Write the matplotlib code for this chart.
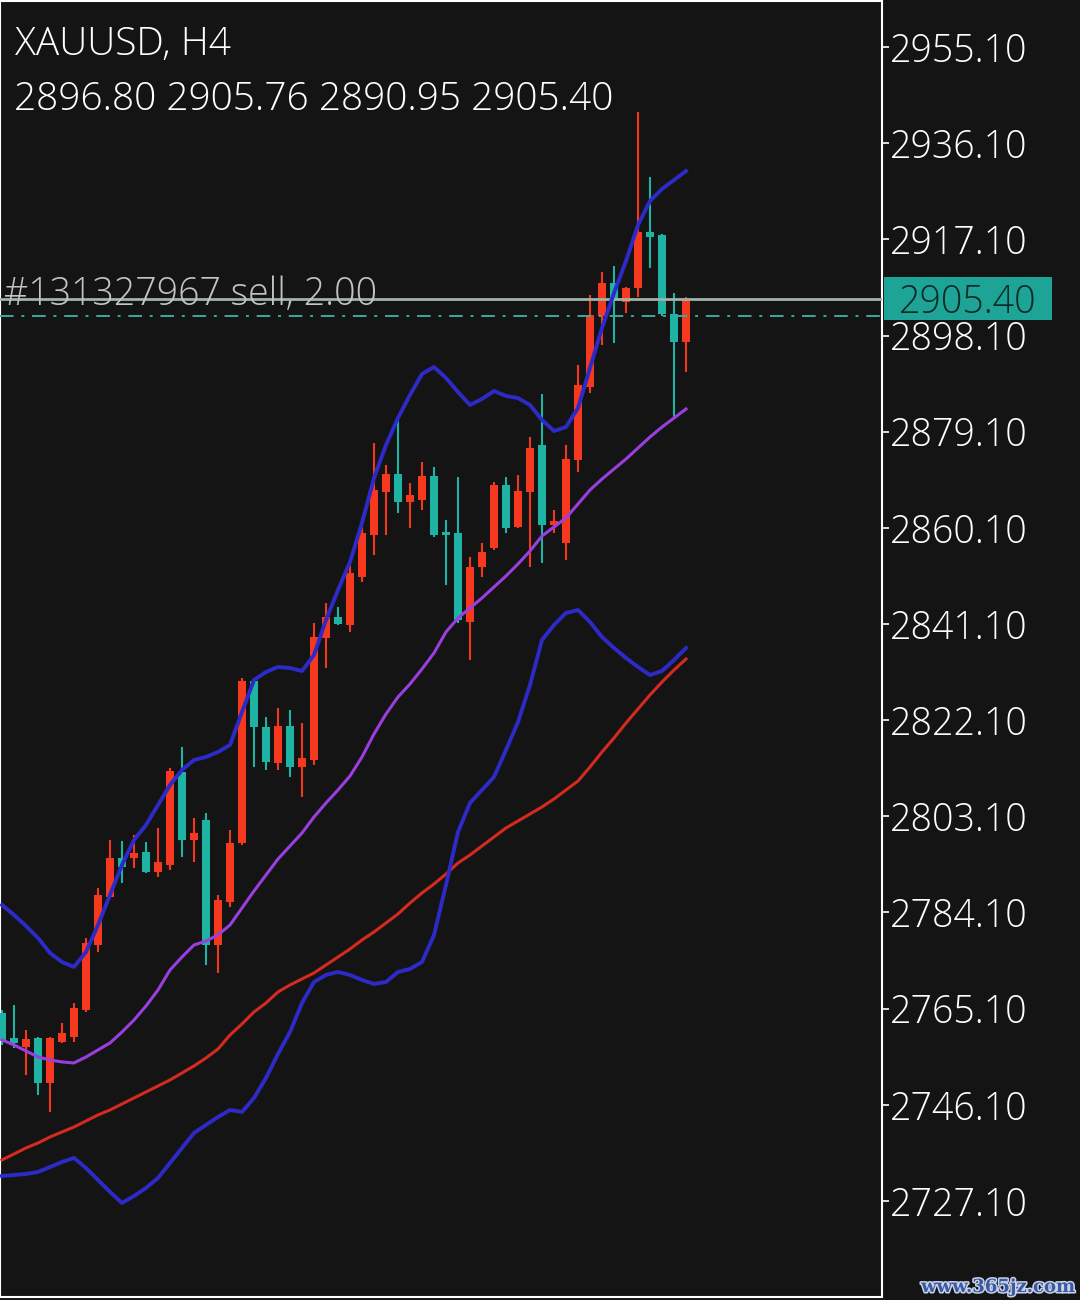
import matplotlib
matplotlib.use("Agg")
import matplotlib.pyplot as plt
import matplotlib.transforms as mtrans
import matplotlib.patheffects as pe
from matplotlib.patches import Rectangle

plt.rcParams['font.family'] = ['Open Sans', 'DejaVu Sans']
plt.rcParams['font.weight'] = 300

# ---------------- data ----------------
symbol = "XAUUSD, H4"
opens = [2764.25, 2759.31, 2757.53, 2759.31, 2750.42, 2758.52, 2759.51, 2764.84, 2777.68, 2787.17,
         2794.87, 2794.87, 2796.06, 2792.10, 2793.49, 2811.86, 2798.43, 2802.38, 2777.68, 2786.18,
         2797.83, 2829.84, 2820.75, 2813.64, 2820.95, 2812.85, 2814.23, 2838.34, 2842.49, 2840.91,
         2850.39, 2858.69, 2867.18, 2870.74, 2865.21, 2865.60, 2870.34, 2859.28, 2859.08, 2841.50,
         2852.36, 2856.12, 2868.57, 2860.27, 2867.18, 2876.47, 2860.66, 2857.11, 2873.50, 2887.93,
         2901.95, 2908.47, 2904.72, 2907.49, 2918.55, 2917.96, 2902.30, 2896.80]
highs = [2764.84, 2765.83, 2760.89, 2759.51, 2759.51, 2762.27, 2766.22, 2779.07, 2788.94, 2798.43,
         2798.23, 2799.42, 2798.03, 2800.80, 2812.65, 2816.80, 2802.77, 2803.76, 2787.56, 2800.40,
         2830.43, 2830.43, 2822.73, 2824.51, 2824.11, 2821.54, 2841.30, 2845.25, 2844.46, 2853.75,
         2862.05, 2876.86, 2872.52, 2882.00, 2868.96, 2873.11, 2872.12, 2861.65, 2870.15, 2854.34,
         2857.11, 2869.16, 2870.15, 2870.54, 2878.05, 2886.54, 2863.63, 2876.47, 2892.27, 2906.10,
         2910.65, 2911.83, 2907.68, 2942.26, 2929.42, 2918.20, 2906.50, 2905.76]
lows = [2757.93, 2757.33, 2752.00, 2748.05, 2744.69, 2758.32, 2758.52, 2764.45, 2776.30, 2786.97,
        2789.93, 2792.90, 2791.91, 2791.12, 2792.50, 2795.07, 2794.08, 2773.73, 2772.15, 2785.19,
        2797.44, 2812.85, 2812.26, 2812.26, 2810.87, 2806.92, 2813.25, 2832.41, 2840.91, 2839.52,
        2849.40, 2854.74, 2858.69, 2863.03, 2860.07, 2863.63, 2858.29, 2848.81, 2841.30, 2833.99,
        2850.39, 2855.72, 2859.08, 2860.07, 2852.36, 2853.15, 2859.08, 2853.75, 2871.13, 2886.74,
        2896.22, 2896.62, 2902.55, 2905.71, 2911.44, 2902.00, 2881.80, 2890.95]
closes = [2758.91, 2758.32, 2759.11, 2750.42, 2759.31, 2760.30, 2765.24, 2778.08, 2787.56, 2794.87,
          2793.09, 2795.86, 2792.10, 2794.08, 2812.06, 2798.43, 2799.81, 2777.68, 2786.57, 2797.83,
          2829.84, 2820.75, 2813.84, 2820.95, 2812.85, 2814.63, 2838.53, 2842.49, 2841.10, 2851.18,
          2859.08, 2867.58, 2870.74, 2865.21, 2866.59, 2870.34, 2858.69, 2858.69, 2841.89, 2852.36,
          2855.33, 2868.57, 2860.07, 2867.38, 2875.88, 2860.66, 2861.45, 2873.70, 2888.32, 2902.15,
          2908.47, 2905.12, 2907.49, 2918.55, 2917.56, 2902.30, 2896.80, 2905.40]

bb_upper = [2785.59, 2783.61, 2781.44, 2779.07, 2776.10, 2774.32, 2773.34, 2776.30, 2781.63, 2787.56,
            2793.49, 2798.43, 2801.39, 2805.34, 2809.29, 2812.26, 2814.23, 2814.83, 2815.81, 2817.20,
            2823.72, 2830.04, 2831.62, 2832.61, 2832.41, 2831.82, 2834.98, 2841.89, 2847.82, 2853.35,
            2861.06, 2869.95, 2876.47, 2881.80, 2886.35, 2890.50, 2891.88, 2889.70, 2886.94, 2884.37,
            2885.56, 2887.14, 2886.15, 2885.75, 2884.37, 2881.41, 2879.23, 2880.02, 2883.78, 2891.68,
            2899.58, 2906.50, 2912.82, 2919.93, 2924.67, 2927.05, 2928.82, 2930.60]
bb_lower = [2732.04, 2732.24, 2732.44, 2732.83, 2733.82, 2734.81, 2735.60, 2733.62, 2731.25, 2728.88,
            2726.71, 2728.09, 2729.67, 2731.65, 2734.61, 2737.58, 2740.54, 2742.12, 2743.70, 2745.08,
            2744.69, 2747.45, 2751.41, 2756.15, 2760.49, 2766.22, 2770.37, 2771.76, 2772.35, 2771.76,
            2770.77, 2769.98, 2770.37, 2772.35, 2772.94, 2774.32, 2779.66, 2789.54, 2800.01, 2805.74,
            2808.31, 2810.87, 2816.21, 2821.74, 2829.05, 2837.94, 2840.91, 2843.28, 2843.87, 2841.50,
            2838.53, 2836.36, 2834.39, 2832.61, 2831.03, 2831.82, 2833.99, 2836.36]
bb_middle = [2758.91, 2757.93, 2756.74, 2755.55, 2754.96, 2754.57, 2754.37, 2755.55, 2756.94, 2758.32,
             2760.49, 2762.86, 2765.63, 2768.79, 2772.74, 2775.31, 2777.68, 2778.47, 2779.66, 2781.63,
             2784.99, 2788.35, 2791.51, 2794.67, 2797.24, 2799.81, 2802.97, 2805.74, 2808.31, 2811.07,
             2814.83, 2819.37, 2823.32, 2826.68, 2829.25, 2832.21, 2835.37, 2839.52, 2842.29, 2844.26,
             2846.24, 2848.41, 2850.59, 2852.96, 2855.53, 2858.49, 2860.27, 2862.05, 2864.81, 2867.58,
             2869.75, 2871.73, 2873.70, 2875.87, 2878.05, 2880.02, 2881.80, 2883.58]
ma_slow = [2735.20, 2736.39, 2737.58, 2738.56, 2739.75, 2740.74, 2741.72, 2742.91, 2744.10, 2745.08,
           2746.27, 2747.45, 2748.64, 2749.82, 2751.01, 2752.39, 2753.78, 2755.36, 2757.13, 2759.90,
           2762.07, 2764.45, 2766.22, 2768.40, 2769.78, 2770.97, 2772.15, 2773.73, 2775.31, 2776.89,
           2778.67, 2780.25, 2782.03, 2783.81, 2785.98, 2787.96, 2789.73, 2791.71, 2793.88, 2795.46,
           2797.24, 2799.02, 2800.80, 2802.18, 2803.56, 2804.95, 2806.53, 2808.31, 2810.08, 2812.85,
           2815.81, 2818.58, 2821.54, 2824.31, 2827.08, 2829.64, 2832.01, 2834.19]

bid_price = 2905.40
order_price = 2902.00
order_label = "#131327967 sell, 2.00"
tick_values = [2727.10, 2746.10, 2765.10, 2784.10, 2803.10, 2822.10, 2841.10,
               2860.10, 2879.10, 2898.10, 2917.10, 2936.10, 2955.10]
tick_labels = ["2727.10", "2746.10", "2765.10", "2784.10", "2803.10", "2822.10", "2841.10",
               "2860.10", "2879.10", "2898.10", "2917.10", "2936.10", "2955.10"]
watermark = "www.365jz.com"

# ---------------- styles ----------------
BG = '#141414'
UP = '#f5381e'
DOWN = '#1fb3a4'
BB_COL = '#2d2ac8'
MID_COL = '#9a3ee0'
SLOW_COL = '#d42a1f'

W, H = 1080, 1300
fig = plt.figure(figsize=(W / 100, H / 100), dpi=100, facecolor=BG)
ax = fig.add_axes([0, 3 / H, 882 / W, 1296 / H])
ax.set_facecolor(BG)

n = len(opens)
xs = list(range(n))
colors = [UP if c >= o else DOWN for o, c in zip(opens, closes)]
bottoms = [min(o, c) for o, c in zip(opens, closes)]
heights = [max(abs(c - o), 0.35) for o, c in zip(opens, closes)]

ax.vlines(xs, lows, highs, colors=colors, linewidth=1.5, zorder=2)
ax.bar(xs, heights, bottom=bottoms, width=0.66, color=colors, linewidth=0, zorder=3)

ax.axhline(bid_price, color='#9db3ac', linewidth=2.0, zorder=4)
ax.axhline(order_price, color='#3fa89c', linewidth=1.4, dashes=[7, 4, 1.5, 4], zorder=4)

ax.plot(xs, ma_slow, color=SLOW_COL, linewidth=2.2, zorder=5)
ax.plot(xs, bb_middle, color=MID_COL, linewidth=2.2, zorder=5)
ax.plot(xs, bb_upper, color=BB_COL, linewidth=2.8, zorder=5)
ax.plot(xs, bb_lower, color=BB_COL, linewidth=2.8, zorder=5)

ax.set_xlim(-2 / 12, 880 / 12)
ax.set_ylim(2708.13, 2964.19)
ax.set_xticks([])
ax.yaxis.tick_right()
ax.set_yticks(tick_values)
ax.set_yticklabels(tick_labels)
ax.tick_params(axis='y', colors='white', length=5, width=1.2, pad=1, labelsize=27,
               direction='out')
for sp in ax.spines.values():
    sp.set_color('white')
    sp.set_linewidth(1.5)

# order label
ax.annotate(order_label, xy=(0, order_price), xycoords=('axes fraction', 'data'),
            xytext=(4, 11), textcoords='offset pixels', va='baseline', ha='left',
            fontsize=27, color='#c4c4c4', zorder=6)

# bid price box on the scale
blend = mtrans.blended_transform_factory(ax.transAxes, ax.transData)
half_h = 21.5 / 5.0614
box = Rectangle((1 + 2 / 882, bid_price - half_h), 168 / 882, 2 * half_h,
                transform=blend, facecolor='#1ea497', edgecolor='none', clip_on=False, zorder=6)
ax.add_patch(box)
ax.text(1 + 86 / 882, bid_price, f"{bid_price:.2f}", transform=blend, ha='center',
        va='center_baseline', fontsize=27, color='#0e2a26', clip_on=False, zorder=7)

# header texts
fig.text(15 / W, 1 - 55 / H, symbol, fontsize=28, color='white', va='baseline')
ohlc = f"{opens[-1]:.2f} {highs[-1]:.2f} {lows[-1]:.2f} {closes[-1]:.2f}"
fig.text(14 / W, 1 - 110 / H, ohlc, fontsize=28, color='white', va='baseline')

# watermark
fig.text(1075 / W, 1 - 1292 / H, watermark, fontsize=13, fontweight='bold', color='#3a5aa6',
         ha='right', va='baseline', family=['DejaVu Serif'],
         path_effects=[pe.withStroke(linewidth=2.2, foreground='#c9d2e6')])

fig.savefig('out.png', dpi=100, facecolor=BG)
